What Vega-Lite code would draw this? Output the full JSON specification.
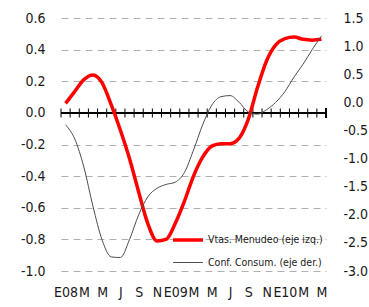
{
  "$schema": "https://vega.github.io/schema/vega-lite/v6.json",
  "width": 265,
  "height": 253,
  "autosize": "none",
  "padding": {"left": 61, "top": 18, "right": 43, "bottom": 36},
  "background": "white",
  "config": {
    "font": "DejaVu Sans Condensed",
    "view": {"stroke": null},
    "axis": {"domain": false, "ticks": false, "tickSize": 0, "labelFont": "DejaVu Sans Condensed", "labelFontSize": 14, "labelColor": "#1a1a1a", "title": null},
    "axisLeft": {"grid": true, "gridDash": [7, 5], "gridColor": "#b0b0b0", "gridWidth": 1, "labelPadding": 16},
    "axisRight": {"grid": false, "labelPadding": 17},
    "axisBottom": {"grid": false, "labelPadding": 14, "labelOverlap": false, "labelFlush": false, "labelBound": false},
    "legend": {"orient": "bottom-right", "offset": 3, "padding": 0, "title": null, "labelFont": "DejaVu Sans Condensed", "labelFontSize": 10.5, "labelColor": "#1a1a1a", "symbolType": "M-1.5,0H1.5", "symbolSize": 400, "rowPadding": 5, "labelOffset": 8}
  },
  "data": {"values": [
    {"t": 0, "vtas": 0.06, "conf": -0.40},
    {"t": 1, "vtas": 0.135, "conf": -0.65},
    {"t": 2, "vtas": 0.21, "conf": -1.15},
    {"t": 3, "vtas": 0.24, "conf": -1.85},
    {"t": 4, "vtas": 0.19, "conf": -2.45},
    {"t": 5, "vtas": 0.05, "conf": -2.75},
    {"t": 6, "vtas": -0.11, "conf": -2.76},
    {"t": 7, "vtas": -0.29, "conf": -2.44},
    {"t": 8, "vtas": -0.50, "conf": -2.0},
    {"t": 9, "vtas": -0.70, "conf": -1.68},
    {"t": 10, "vtas": -0.81, "conf": -1.53},
    {"t": 11, "vtas": -0.80, "conf": -1.46},
    {"t": 12, "vtas": -0.70, "conf": -1.42},
    {"t": 13, "vtas": -0.56, "conf": -1.25},
    {"t": 14, "vtas": -0.40, "conf": -0.85},
    {"t": 15, "vtas": -0.28, "conf": -0.40},
    {"t": 16, "vtas": -0.21, "conf": -0.05},
    {"t": 17, "vtas": -0.195, "conf": 0.10},
    {"t": 18, "vtas": -0.195, "conf": 0.12},
    {"t": 19, "vtas": -0.16, "conf": 0.0},
    {"t": 20, "vtas": -0.04, "conf": -0.17},
    {"t": 21, "vtas": 0.16, "conf": -0.21},
    {"t": 22, "vtas": 0.33, "conf": -0.13},
    {"t": 23, "vtas": 0.43, "conf": 0.0},
    {"t": 24, "vtas": 0.47, "conf": 0.19},
    {"t": 25, "vtas": 0.48, "conf": 0.45},
    {"t": 26, "vtas": 0.465, "conf": 0.68},
    {"t": 27, "vtas": 0.46, "conf": 0.94},
    {"t": 28, "vtas": 0.465, "conf": 1.18}
  ]},
  "layer": [
    {
      "layer": [
        {
          "mark": {"type": "rule", "color": "black", "strokeWidth": 1},
          "encoding": {
            "y": {"datum": 0, "type": "quantitative", "scale": {"domain": [-1, 0.6], "nice": false, "zero": false}, "axis": {"values": [-1, -0.8, -0.6, -0.4, -0.2, 0, 0.2, 0.4, 0.6], "labelExpr": "replace(format(datum.value, '.1f'), '\u2212', '-')"}}
          }
        },
        {
          "mark": {"type": "tick", "orient": "vertical", "size": 9, "thickness": 1, "color": "black", "opacity": 1, "xOffset": -4.57},
          "encoding": {
            "x": {"field": "t", "type": "quantitative", "scale": {"domain": [-0.5, 28.5], "nice": false, "zero": false}, "axis": {"grid": false, "values": [0, 2, 4, 6, 8, 10, 12, 14, 16, 18, 20, 22, 24, 26, 28], "labelOverlap": false, "labelFlush": false, "labelBound": false, "labelExpr": "datum.value == 0 ? 'E08' : datum.value == 12 ? 'E09' : datum.value == 24 ? 'E10' : ['E','F','M','A','M','J','J','A','S','O','N','D'][datum.value % 12]"}},
            "y": {"datum": 0, "type": "quantitative", "scale": {"domain": [-1, 0.6], "nice": false, "zero": false}, "axis": {"values": [-1, -0.8, -0.6, -0.4, -0.2, 0, 0.2, 0.4, 0.6], "labelExpr": "replace(format(datum.value, '.1f'), '\u2212', '-')"}}
          }
        },
        {
          "mark": {"type": "tick", "orient": "vertical", "size": 9, "thickness": 1, "color": "black", "opacity": 1},
          "encoding": {
            "x": {"datum": 28.5, "type": "quantitative", "axis": {"grid": false, "values": [0, 2, 4, 6, 8, 10, 12, 14, 16, 18, 20, 22, 24, 26, 28], "labelOverlap": false, "labelFlush": false, "labelBound": false, "labelExpr": "datum.value == 0 ? 'E08' : datum.value == 12 ? 'E09' : datum.value == 24 ? 'E10' : ['E','F','M','A','M','J','J','A','S','O','N','D'][datum.value % 12]"}},
            "y": {"datum": 0, "type": "quantitative", "scale": {"domain": [-1, 0.6], "nice": false, "zero": false}, "axis": {"values": [-1, -0.8, -0.6, -0.4, -0.2, 0, 0.2, 0.4, 0.6], "labelExpr": "replace(format(datum.value, '.1f'), '\u2212', '-')"}}
          }
        },
        {
          "transform": [{"fold": ["vtas"], "as": ["serie", "valor"]}],
          "mark": {"type": "line", "interpolate": "monotone"},
          "encoding": {
            "x": {"field": "t", "type": "quantitative", "axis": {"grid": false, "values": [0, 2, 4, 6, 8, 10, 12, 14, 16, 18, 20, 22, 24, 26, 28], "labelOverlap": false, "labelFlush": false, "labelBound": false, "labelExpr": "datum.value == 0 ? 'E08' : datum.value == 12 ? 'E09' : datum.value == 24 ? 'E10' : ['E','F','M','A','M','J','J','A','S','O','N','D'][datum.value % 12]"}},
            "y": {"field": "valor", "type": "quantitative", "scale": {"domain": [-1, 0.6], "nice": false, "zero": false}, "axis": {"values": [-1, -0.8, -0.6, -0.4, -0.2, 0, 0.2, 0.4, 0.6], "labelExpr": "replace(format(datum.value, '.1f'), '\u2212', '-')"}},
            "color": {"field": "serie", "type": "nominal", "scale": {"domain": ["vtas", "conf"], "range": ["#ff0000", "#4d4d4d"]}, "legend": {"labelExpr": "datum.label == 'vtas' ? 'Vtas. Menudeo (eje izq.)' : 'Conf. Consum. (eje der.)'"}},
            "strokeWidth": {"field": "serie", "type": "nominal", "scale": {"type": "ordinal", "domain": ["vtas", "conf"], "range": [3.5, 1]}, "legend": {"labelExpr": "datum.label == 'vtas' ? 'Vtas. Menudeo (eje izq.)' : 'Conf. Consum. (eje der.)'"}}
          }
        }
      ]
    },
    {
      "transform": [{"fold": ["conf"], "as": ["serie", "valor"]}],
      "mark": {"type": "line", "interpolate": "monotone"},
      "encoding": {
        "x": {"field": "t", "type": "quantitative", "axis": {"grid": false, "values": [0, 2, 4, 6, 8, 10, 12, 14, 16, 18, 20, 22, 24, 26, 28], "labelOverlap": false, "labelFlush": false, "labelBound": false, "labelExpr": "datum.value == 0 ? 'E08' : datum.value == 12 ? 'E09' : datum.value == 24 ? 'E10' : ['E','F','M','A','M','J','J','A','S','O','N','D'][datum.value % 12]"}},
        "y": {"field": "valor", "type": "quantitative", "scale": {"domain": [-3, 1.5], "nice": false, "zero": false}, "axis": {"orient": "right", "values": [-3, -2.5, -2, -1.5, -1, -0.5, 0, 0.5, 1, 1.5], "labelExpr": "replace(format(datum.value, '.1f'), '\u2212', '-')"}},
        "color": {"field": "serie", "type": "nominal", "scale": {"domain": ["vtas", "conf"], "range": ["#ff0000", "#4d4d4d"]}, "legend": {"labelExpr": "datum.label == 'vtas' ? 'Vtas. Menudeo (eje izq.)' : 'Conf. Consum. (eje der.)'"}},
        "strokeWidth": {"field": "serie", "type": "nominal", "scale": {"type": "ordinal", "domain": ["vtas", "conf"], "range": [3.5, 1]}, "legend": {"labelExpr": "datum.label == 'vtas' ? 'Vtas. Menudeo (eje izq.)' : 'Conf. Consum. (eje der.)'"}}
      }
    }
  ],
  "resolve": {"scale": {"y": "independent"}}
}
